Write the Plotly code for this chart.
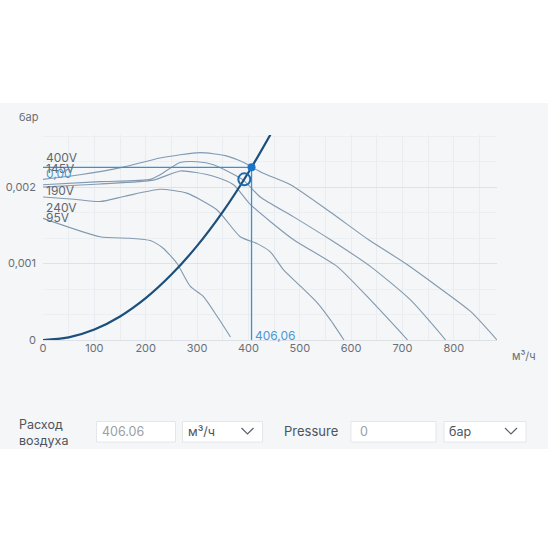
import plotly.graph_objects as go

# ---------------- data ----------------
flow_400 = [0, 72, 156, 228, 306, 355, 391, 407, 429, 482, 560, 634, 706, 768, 833, 884]
pres_400 = [0.00210, 0.00216, 0.00226, 0.00238, 0.00245, 0.00241, 0.00232, 0.002258, 0.00218, 0.00203,
            0.00167, 0.00131, 0.00100, 0.00070, 0.00037, 0.0]

flow_240 = [0, 111, 209, 228, 267, 300, 332, 390, 423, 488, 560, 638, 716, 784]
pres_240 = [0.00203, 0.00207, 0.00210, 0.00216, 0.00232, 0.00233, 0.00229, 0.00209, 0.00187, 0.00161,
            0.00131, 0.00096, 0.00052, 0.0]

flow_190 = [0, 111, 215, 267, 298, 332, 371, 404, 488, 573, 638, 710]
pres_190 = [0.00200, 0.00204, 0.00209, 0.00221, 0.00219, 0.00214, 0.00203, 0.00177, 0.00131, 0.00096,
            0.00052, 0.0]

flow_145 = [0, 60, 111, 160, 228, 280, 339, 384, 417, 443, 468, 502, 535, 560, 586]
pres_145 = [0.00187, 0.00184, 0.00181, 0.00188, 0.00197, 0.00192, 0.00170, 0.00135, 0.00126, 0.00115,
            0.00092, 0.00070, 0.00048, 0.00026, 0.0]

flow_95 = [0, 111, 170, 209, 234, 261, 287, 312, 339, 365]
pres_95 = [0.00159, 0.00135, 0.00133, 0.00130, 0.00120, 0.00100, 0.00070, 0.00057, 0.00031, 0.00004]

sys_flow = [0, 50, 100, 150, 200, 250, 300, 350, 400, 444]
sys_pres = [0.0, 0.000034, 0.000137, 0.000308, 0.000547, 0.000855, 0.00123, 0.001675, 0.00219, 0.0027]

op_flow = 406.06
op_pres = 0.002258
duty_flow = 392
duty_pres = 0.0021

x_ticks = [0, 100, 200, 300, 400, 500, 600, 700, 800]
y_ticks = [0, 0.001, 0.002]

curve_labels = ["400V", "145V", "190V", "240V", "95V"]

# ---------------- figure ----------------
W, H = 550, 550
L, R, T, B = 43, 53, 135, 210
PW, PH = W - L - R, H - T - B


def fx(p):
    return (p - L) / PW


def fy(p):
    return (H - B - p) / PH


PUMP = "#8299b0"
fig = go.Figure()
for fl, pr in [(flow_400, pres_400), (flow_240, pres_240), (flow_190, pres_190),
               (flow_145, pres_145), (flow_95, pres_95)]:
    fig.add_trace(go.Scatter(x=fl, y=pr, mode="lines",
                             line=dict(color=PUMP, width=1.1, shape="spline", smoothing=0.6),
                             hoverinfo="skip", showlegend=False))

fig.add_trace(go.Scatter(x=sys_flow, y=sys_pres, mode="lines",
                         line=dict(color="#1d4f7c", width=2.2, shape="spline"),
                         showlegend=False))

OPC = "#3d8fd1"
fig.add_trace(go.Scatter(x=[0, op_flow], y=[op_pres, op_pres], mode="lines",
                         line=dict(color=OPC, width=1.3), showlegend=False))
fig.add_trace(go.Scatter(x=[op_flow, op_flow], y=[0, op_pres], mode="lines",
                         line=dict(color=OPC, width=1.3), showlegend=False))
fig.add_trace(go.Scatter(x=[duty_flow], y=[duty_pres], mode="markers",
                         marker=dict(size=12, color="rgba(0,0,0,0)",
                                     line=dict(color="#1f6aa8", width=2)),
                         showlegend=False))
fig.add_trace(go.Scatter(x=[op_flow], y=[op_pres], mode="markers",
                         marker=dict(size=8, color="#1b74c5"), showlegend=False))

FONT = "Inter, Roboto, sans-serif"
TXT = "#6a6f76"

annotations = []
label_y = [157, 168, 190, 207, 217]
for lab, py in zip(curve_labels, label_y):
    annotations.append(dict(x=fx(44), y=fy(py), xref="paper", yref="paper", text=lab,
                            showarrow=False, xanchor="left", yanchor="middle",
                            font=dict(family=FONT, size=12, color="#5f6670")))
annotations.append(dict(x=fx(44), y=fy(173.5), xref="paper", yref="paper",
                        text=f"{op_pres:.2f}".replace(".", ","),
                        showarrow=False, xanchor="left", yanchor="middle",
                        font=dict(family=FONT, size=12, color="#4a98d6")))
annotations.append(dict(x=op_flow, y=fy(335), xref="x", yref="paper",
                        text=f"{op_flow:.2f}".replace(".", ","),
                        showarrow=False, xanchor="left", yanchor="middle", xshift=1,
                        font=dict(family=FONT, size=12, color="#4a98d6")))
annotations.append(dict(x=fx(17), y=fy(117), xref="paper", yref="paper", text="бар",
                        showarrow=False, xanchor="left", yanchor="middle",
                        font=dict(family=FONT, size=11, color=TXT)))
annotations.append(dict(x=fx(510), y=fy(356), xref="paper", yref="paper", text="м³/ч",
                        showarrow=False, xanchor="left", yanchor="middle",
                        font=dict(family=FONT, size=11, color=TXT)))

# form row
FORM = "#4d545c"
annotations.append(dict(x=fx(17), y=fy(432), xref="paper", yref="paper",
                        text="Расход<br>воздуха", align="left",
                        showarrow=False, xanchor="left", yanchor="middle",
                        font=dict(family=FONT, size=12.5, color=FORM)))
annotations.append(dict(x=fx(100), y=fy(431), xref="paper", yref="paper", text="406.06",
                        showarrow=False, xanchor="left", yanchor="middle",
                        font=dict(family=FONT, size=12.5, color="#9aa0a6")))
annotations.append(dict(x=fx(186), y=fy(431), xref="paper", yref="paper", text="м³/ч",
                        showarrow=False, xanchor="left", yanchor="middle",
                        font=dict(family=FONT, size=12.5, color=FORM)))
annotations.append(dict(x=fx(282), y=fy(431), xref="paper", yref="paper", text="Pressure",
                        showarrow=False, xanchor="left", yanchor="middle",
                        font=dict(family=FONT, size=13, color=FORM)))
annotations.append(dict(x=fx(358), y=fy(431), xref="paper", yref="paper", text="0",
                        showarrow=False, xanchor="left", yanchor="middle",
                        font=dict(family=FONT, size=12.5, color="#9aa0a6")))
annotations.append(dict(x=fx(447), y=fy(431), xref="paper", yref="paper", text="бар",
                        showarrow=False, xanchor="left", yanchor="middle",
                        font=dict(family=FONT, size=12.5, color=FORM)))

shapes = [
    dict(type="rect", xref="paper", yref="paper", x0=fx(0), x1=fx(548), y0=fy(449), y1=fy(103),
         fillcolor="#f4f6f8", line=dict(width=0), layer="below"),
]
for x0, x1 in [(96.5, 175.5), (182.5, 262.5), (351, 436), (444, 526)]:
    shapes.append(dict(type="rect", xref="paper", yref="paper", x0=fx(x0), x1=fx(x1),
                       y0=fy(442), y1=fy(421.5), fillcolor="white",
                       line=dict(color="#e4e7ea", width=1), layer="below"))
for cx in [247.5, 511]:
    shapes.append(dict(type="path", xref="paper", yref="paper",
                       path=f"M {fx(cx-6)},{fy(428)} L {fx(cx)},{fy(434)} L {fx(cx+6)},{fy(428)}",
                       line=dict(color="#5a6169", width=1.2)))

fig.update_layout(
    width=W, height=H,
    margin=dict(l=L, r=R, t=T, b=B, autoexpand=False),
    paper_bgcolor="white", plot_bgcolor="rgba(0,0,0,0)",
    separators=", ",
    showlegend=False,
    annotations=annotations, shapes=shapes,
    xaxis=dict(range=[0, max(flow_400)], tickvals=x_ticks, showgrid=True,
               gridcolor="#e9edf1", gridwidth=1, zeroline=False, showline=False,
               ticks="", tickfont=dict(family=FONT, size=11, color=TXT),
               minor=dict(dtick=50, showgrid=True, gridcolor="#e9edf1", gridwidth=1),
               fixedrange=True),
    yaxis=dict(range=[0, max(sys_pres) - 0.00002], tickvals=y_ticks, tickformat=".3~f",
               showgrid=True, gridcolor="#dfe3e8", gridwidth=1, zeroline=True,
               zerolinecolor="#dde1e6", zerolinewidth=1, showline=False, ticks="",
               ticklabelstandoff=6,
               tickfont=dict(family=FONT, size=11, color=TXT),
               minor=dict(dtick=0.001 / 3, showgrid=True, gridcolor="#ebeff2", gridwidth=1),
               fixedrange=True),
)

fig.write_html("out.html", config={"displayModeBar": False},
               post_script="document.body.style.margin='0';document.body.style.overflow='hidden';")
